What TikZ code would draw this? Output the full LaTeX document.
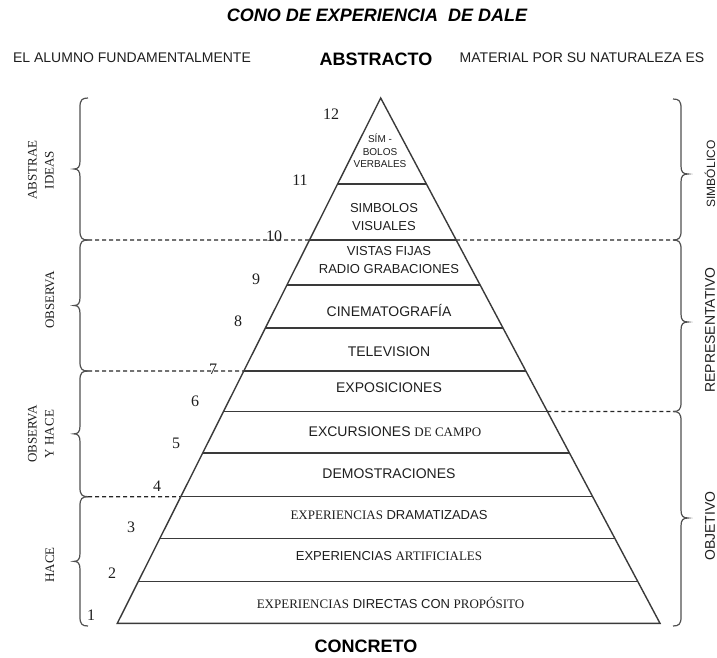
\documentclass[tikz,border=0pt]{standalone}
\usepackage{fontspec}
\setmainfont{Liberation Serif}
\setsansfont{Liberation Sans}
\usetikzlibrary{calc}
\definecolor{txt}{HTML}{1E1E1E}
\definecolor{ln}{HTML}{3A3A3A}
\definecolor{br}{HTML}{505050}
\newcommand\fs[1]{\fontsize{#1}{#1}\selectfont}
\newcommand\rmcap[1]{{\rmfamily\fs{13}#1}}
\newcommand\mklevel[2]{\pgfmathsetmacro\lvt{(#2-98)/525.3}%
  \coordinate (#1l) at ($(A)!\lvt!(BL)$);\coordinate (#1r) at ($(A)!\lvt!(BR)$);}
\newcommand\bracel[2]{\pgfmathsetmacro\bm{(#1+#2)/2}%
  \draw[bracestyle] (88,#1) .. controls (82,#1) and (80,#1+2) .. (80,#1+9) -- (80,\bm-8)
    .. controls (80,\bm-2) and (78,\bm) .. (74,\bm) .. controls (78,\bm) and (80,\bm+2) .. (80,\bm+8)
    -- (80,#2-9) .. controls (80,#2-2) and (82,#2) .. (88,#2);}
\newcommand\bracer[3]{%
  \draw[bracestyle] (673,#1) .. controls (679,#1) and (681,#1+2) .. (681,#1+9) -- (681,#3-8)
    .. controls (681,#3-2) and (683,#3) .. (688,#3) .. controls (683,#3) and (681,#3+2) .. (681,#3+8)
    -- (681,#2-9) .. controls (681,#2-2) and (679,#2) .. (673,#2);}
\tikzset{
  pyr/.style={draw=ln, line width=1.4pt, line join=miter},
  band/.style={draw=ln, line width=1.4pt},
  dashln/.style={draw=black!85, line width=1.1pt, dash pattern=on 4pt off 3pt},
  bracestyle/.style={draw=br, line width=1.2pt},
  lbl/.style={inner sep=0pt, text=txt, font=\sffamily\fs{14}, align=center},
  lbls/.style={lbl, font=\sffamily\fs{13}},
  num/.style={inner sep=0pt, text=txt, font=\rmfamily\fs{16}},
  side/.style={inner sep=0pt, text=txt, font=\rmfamily\fs{13}, align=center, rotate=90},
  sideR/.style={inner sep=0pt, text=txt, font=\sffamily\fs{14}, rotate=90},
  big/.style={inner sep=0pt, text=black, font=\sffamily\bfseries\fs{18}},
}
\begin{document}
\begin{tikzpicture}[x=1pt,y=-1pt]
\useasboundingbox (0,0) rectangle (717,657);
% pyramid
\coordinate (A) at (380.7,98);
\coordinate (BL) at (117.3,623.3);
\coordinate (BR) at (660,623.3);
\mklevel{b11}{184}
\mklevel{b10}{240}
\mklevel{b9}{285}
\mklevel{b8}{328}
\mklevel{b7}{371}
\mklevel{b6}{411.5}
\mklevel{b5}{453}
\mklevel{b4}{496.7}
\mklevel{b3}{538.3}
\mklevel{b2}{581.7}
% dashed separators
\coordinate (dl10) at (88,240);
\coordinate (dr10) at (673,240);
\coordinate (dl7) at (88,371);
\coordinate (dr6) at (673,411.5);
\coordinate (dl4) at (88,496.7);
\draw[dashln] (dl10) -- (b10l);
\draw[dashln] (b10r) -- (dr10);
\draw[dashln] (dl7) -- (b7l);
\draw[dashln] (b6r) -- (dr6);
\draw[dashln] (dl4) -- (b4l);
\draw[pyr] (A) -- (BL) -- (BR) -- cycle;
\foreach \b in {b11,b10,b9,b8,b7,b6,b5,b4,b3,b2}{\draw[band] (\b l) -- (\b r);}
% braces
\bracel{98}{240}
\bracel{240}{371}
\bracel{371}{496.7}
\bracel{496.7}{626}
\bracer{99}{240}{174}
\bracer{240}{411.5}{322}
\bracer{411.5}{626}{518}
% headings
\node[inner sep=0pt, text=black, font=\sffamily\bfseries\itshape\fs{18}] (title) at (377,15) {CONO DE EXPERIENCIA\ \ DE DALE};
\node[lbl] (alumno) at (132,58) {EL ALUMNO FUNDAMENTALMENTE};
\node[big] (abstracto) at (376,59) {ABSTRACTO};
\node[lbl] (material) at (582,58) {MATERIAL POR SU NATURALEZA ES};
\node[big] (concreto) at (366,646) {CONCRETO};
% band labels
\node[lbl, font=\sffamily\fs{10}, execute at begin node=\setlength{\baselineskip}{12.5pt}] (t12) at (380,151) {SÍM -\\BOLOS\\VERBALES};
\node[lbls, execute at begin node=\setlength{\baselineskip}{18pt}] (t11) at (384,217) {SIMBOLOS\\VISUALES};
\node[lbls, execute at begin node=\setlength{\baselineskip}{17.5pt}] (t10) at (389,260) {VISTAS FIJAS\\RADIO GRABACIONES};
\node[lbl] (t9) at (389,310) {CINEMATOGRAFÍA};
\node[lbl] (t8) at (389,352) {TELEVISION};
\node[lbl] (t7) at (389,388) {EXPOSICIONES};
\node[lbl] (t6) at (395,432) {EXCURSIONES \rmcap{DE CAMPO}};
\node[lbl] (t5) at (389,474) {DEMOSTRACIONES};
\node[lbls] (t4) at (389,515) {\rmcap{EXPERIENCIAS} DRAMATIZADAS};
\node[lbls] (t3) at (389,556.5) {EXPERIENCIAS \rmcap{ARTIFICIALES}};
\node[lbls] (t2) at (390.5,603) {\rmcap{EXPERIENCIAS} DIRECTAS CON \rmcap{PROPÓSITO}};
% numbers
\node[num] (n12) at (331,114) {12};
\node[num] (n11) at (300,180) {11};
\node[num] (n10) at (274,236) {10};
\node[num] (n9) at (256,279) {9};
\node[num] (n8) at (238,321) {8};
\node[num] (n7) at (213,369) {7};
\node[num] (n6) at (195,401) {6};
\node[num] (n5) at (176,443) {5};
\node[num] (n4) at (157,486) {4};
\node[num] (n3) at (131,527) {3};
\node[num] (n2) at (112,573) {2};
\node[num] (n1) at (91,615) {1};
% side labels left
\node[side, execute at begin node=\setlength{\baselineskip}{17pt}] (s1) at (41,170) {ABSTRAE\\IDEAS};
\node[side] (s2) at (50,300) {OBSERVA};
\node[side, execute at begin node=\setlength{\baselineskip}{17pt}] (s3) at (41,434) {OBSERVA\\Y HACE};
\node[side] (s4) at (50,565) {HACE};
% side labels right
\node[sideR, font=\sffamily\fs{12}] (r1) at (710,174) {SIMBÓLICO};
\node[sideR] (r2) at (710,330) {REPRESENTATIVO};
\node[sideR] (r3) at (710,526) {OBJETIVO};
\end{tikzpicture}
\end{document}
